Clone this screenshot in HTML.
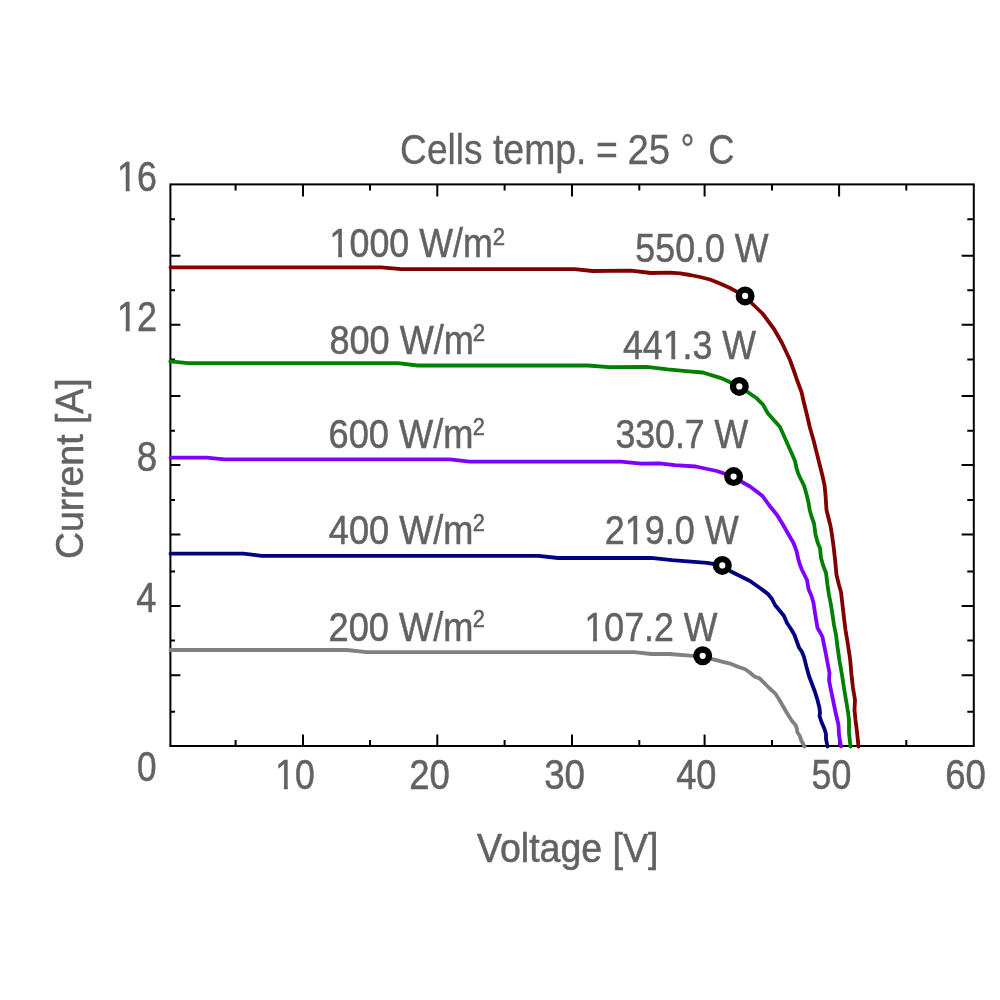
<!DOCTYPE html>
<html><head><meta charset="utf-8"><title>I-V curves</title>
<style>html,body{margin:0;padding:0;background:#fff;width:1000px;height:1000px;overflow:hidden}svg{display:block}</style>
</head><body>
<svg width="1000" height="1000" viewBox="0 0 1000 1000">
<rect width="1000" height="1000" fill="#fff"/>
<path d="M235.6,746.0V740.0M235.6,184.4V190.4M303.0,746.0V734.4M303.0,184.4V196.4M370.0,746.0V740.0M370.0,184.4V190.4M437.3,746.0V734.4M437.3,184.4V196.4M504.6,746.0V740.0M504.6,184.4V190.4M572.0,746.0V734.4M572.0,184.4V196.4M639.3,746.0V740.0M639.3,184.4V190.4M704.6,746.0V734.4M704.6,184.4V196.4M772.0,746.0V740.0M772.0,184.4V190.4M839.1,746.0V734.4M839.1,184.4V196.4M906.3,746.0V740.0M906.3,184.4V190.4M170.4,711.8H175.0M973.8,711.8H967.3M170.4,675.2H180.4M973.8,675.2H961.6M170.4,640.6H175.0M973.8,640.6H967.3M170.4,606.0H180.4M973.8,606.0H961.6M170.4,571.4H175.0M973.8,571.4H967.3M170.4,534.4H180.4M973.8,534.4H961.6M170.4,500.0H175.0M973.8,500.0H967.3M170.4,465.0H180.4M973.8,465.0H961.6M170.4,430.8H175.0M973.8,430.8H967.3M170.4,396.0H180.4M973.8,396.0H961.6M170.4,359.4H175.0M973.8,359.4H967.3M170.4,324.7H180.4M973.8,324.7H961.6M170.4,290.2H175.0M973.8,290.2H967.3M170.4,255.7H180.4M973.8,255.7H961.6M170.4,219.3H175.0M973.8,219.3H967.3" stroke="#000" stroke-width="2" fill="none"/>
<rect x="170.4" y="184.4" width="803.4" height="561.6" fill="none" stroke="#000" stroke-width="2"/>
<polyline points="170.5,267.4 381.0,267.4 401.4,269.2 574.5,269.2 592.5,271.0 631.0,270.7 651.0,273.0 670.0,272.6 680.0,273.4 690.0,275.0 700.0,277.0 710.0,279.5 720.0,283.5 730.0,288.0 738.0,292.3 745.1,295.9 751.5,303.0 762.5,313.5 774.0,329.0 782.0,343.0 790.0,360.0 795.0,374.0 797.0,380.0 801.5,392.0 804.0,403.0 807.0,415.0 810.0,428.0 813.5,440.0 816.5,452.0 819.5,464.0 822.5,476.0 824.5,485.0 825.5,495.0 826.5,510.0 828.5,518.0 830.5,526.0 832.0,535.0 833.5,546.0 835.0,559.0 836.5,575.0 839.0,585.0 841.0,592.0 842.5,605.0 844.0,618.0 845.5,630.0 847.5,642.0 849.5,655.0 850.2,660.0 851.5,675.0 853.0,688.0 855.0,700.0 854.5,710.0 855.5,720.0 857.0,732.0 858.5,746.5" fill="none" stroke="#800000" stroke-width="3.8" stroke-linejoin="round" stroke-linecap="round"/>
<polyline points="170.3,361.3 188.0,363.1 398.0,363.1 417.5,365.5 588.0,365.5 609.0,367.2 646.8,366.9 667.8,369.4 686.0,371.1 702.8,372.5 721.0,378.1 739.3,386.4 756.0,397.7 763.0,404.7 767.6,413.0 780.0,427.0 784.0,436.0 788.0,445.0 792.0,454.0 795.0,461.0 796.5,468.0 798.0,473.0 800.0,477.5 804.2,486.0 806.7,495.0 808.7,503.5 809.7,510.0 812.0,518.0 814.0,523.5 815.5,534.5 817.8,543.0 820.0,548.0 821.0,558.0 823.0,565.0 826.0,573.0 827.5,585.0 829.0,595.0 831.0,605.0 832.5,615.0 834.0,625.0 836.0,635.0 837.5,647.0 839.5,661.0 842.0,675.0 844.0,688.0 846.0,700.0 848.0,712.0 849.0,720.0 849.0,733.0 850.5,746.5" fill="none" stroke="#008000" stroke-width="3.8" stroke-linejoin="round" stroke-linecap="round"/>
<polyline points="170.5,457.7 206.5,457.7 224.5,459.4 450.0,459.4 469.5,461.6 621.0,461.6 641.2,463.6 659.4,463.3 674.8,465.1 695.8,466.5 716.8,471.0 733.6,476.6 742.0,482.0 750.0,486.5 756.0,491.0 762.5,496.0 769.0,505.0 777.0,515.0 782.0,523.0 786.0,530.0 790.0,537.0 793.5,543.0 796.5,551.0 798.3,559.0 800.0,565.0 802.0,570.0 804.0,574.0 807.0,580.0 808.5,589.0 811.5,596.0 813.5,603.0 815.0,613.0 816.5,622.0 817.5,628.0 820.5,633.0 822.5,637.0 824.0,645.0 825.5,652.0 827.0,660.0 829.5,673.0 829.0,680.0 830.5,688.0 833.0,700.0 835.5,712.0 838.5,725.0 839.0,735.0 841.0,746.5" fill="none" stroke="#7f00ff" stroke-width="3.8" stroke-linejoin="round" stroke-linecap="round"/>
<polyline points="170.5,553.7 243.5,553.7 261.5,555.8 538.5,555.8 558.0,558.0 651.0,557.9 672.0,560.1 707.0,562.9 722.3,565.4 730.0,571.0 740.0,576.0 750.0,581.0 760.0,588.0 768.0,594.0 772.0,599.0 775.0,605.0 780.0,611.0 784.0,616.0 787.0,623.0 791.0,629.0 794.5,635.0 797.0,642.0 799.0,647.5 802.0,652.0 804.0,657.0 806.5,667.0 809.0,676.0 812.0,684.0 815.0,692.0 817.5,700.0 819.5,708.0 820.0,713.0 819.5,716.0 821.5,722.0 824.5,729.0 826.0,734.0 826.0,739.0 827.5,746.5" fill="none" stroke="#000080" stroke-width="3.8" stroke-linejoin="round" stroke-linecap="round"/>
<polyline points="170.5,650.0 347.0,650.0 366.5,652.1 634.0,652.2 651.6,654.0 669.2,654.0 690.0,655.6 702.8,655.8 712.4,659.2 722.0,661.6 730.0,663.6 738.0,666.8 745.2,669.2 750.0,672.8 754.8,676.8 759.6,678.4 763.6,682.4 769.2,688.0 775.1,693.3 778.7,698.7 782.3,705.0 785.9,711.3 788.6,715.8 792.2,721.2 795.5,725.0 797.0,729.0 797.2,732.0 800.0,736.2 801.0,740.0 804.5,746.5" fill="none" stroke="#808080" stroke-width="3.8" stroke-linejoin="round" stroke-linecap="round"/>
<circle cx="745.1" cy="295.9" r="6.3" fill="#fff" stroke="#000" stroke-width="6.4"/>
<circle cx="739.3" cy="386.4" r="6.3" fill="#fff" stroke="#000" stroke-width="6.4"/>
<circle cx="733.6" cy="476.6" r="6.3" fill="#fff" stroke="#000" stroke-width="6.4"/>
<circle cx="722.3" cy="565.4" r="6.3" fill="#fff" stroke="#000" stroke-width="6.4"/>
<circle cx="702.7" cy="655.8" r="6.3" fill="#fff" stroke="#000" stroke-width="6.4"/>
<g font-family="'Liberation Sans', Arial, sans-serif" fill="#626262" stroke="#626262" stroke-width="0.55">
<text x="400.11" y="163.50" font-size="42.0" textLength="82.41" lengthAdjust="spacingAndGlyphs" stroke-width="0.3">Cells</text>
<text x="492.94" y="163.50" font-size="42.0" textLength="93.57" lengthAdjust="spacingAndGlyphs" stroke-width="0.3">temp.</text>
<text x="595.97" y="163.50" font-size="42.0" textLength="21.87" lengthAdjust="spacingAndGlyphs" stroke-width="0.3">=</text>
<text x="627.48" y="163.50" font-size="42.0" textLength="42.75" lengthAdjust="spacingAndGlyphs" stroke-width="0.3">25</text>
<text x="680.50" y="163.50" font-size="42.0" textLength="14.00" lengthAdjust="spacingAndGlyphs" stroke-width="0.3">°</text>
<text x="708.15" y="163.50" font-size="42.0" textLength="26.24" lengthAdjust="spacingAndGlyphs" stroke-width="0.3">C</text>
<text x="117.07" y="190.50" font-size="42.2" textLength="39.77" lengthAdjust="spacingAndGlyphs" clip-path="url(#c0)">16</text>
<text x="117.05" y="330.75" font-size="42.2" textLength="40.01" lengthAdjust="spacingAndGlyphs" clip-path="url(#c1)">12</text>
<text x="136.63" y="471.20" font-size="42.2" textLength="20.35" lengthAdjust="spacingAndGlyphs">8</text>
<text x="136.37" y="611.60" font-size="42.2" textLength="20.08" lengthAdjust="spacingAndGlyphs">4</text>
<text x="137.03" y="781.20" font-size="42.2" textLength="19.55" lengthAdjust="spacingAndGlyphs">0</text>
<text x="275.34" y="788.80" font-size="42.2" textLength="39.56" lengthAdjust="spacingAndGlyphs" clip-path="url(#c2)">10</text>
<text x="409.17" y="788.80" font-size="42.2" textLength="40.67" lengthAdjust="spacingAndGlyphs">20</text>
<text x="544.20" y="788.80" font-size="42.2" textLength="40.84" lengthAdjust="spacingAndGlyphs">30</text>
<text x="676.17" y="788.80" font-size="42.2" textLength="40.26" lengthAdjust="spacingAndGlyphs">40</text>
<text x="811.57" y="788.80" font-size="42.2" textLength="39.84" lengthAdjust="spacingAndGlyphs">50</text>
<text x="945.13" y="788.80" font-size="42.2" textLength="40.70" lengthAdjust="spacingAndGlyphs">60</text>
<text x="477.01" y="861.70" font-size="40.3" textLength="181.45" lengthAdjust="spacingAndGlyphs">Voltage [V]</text>
<text x="-1.91" y="0.00" font-size="39.1" textLength="180.76" lengthAdjust="spacingAndGlyphs" transform="translate(82.7,557.2) rotate(-90)">Current [A]</text>
<text x="329.56" y="257.00" font-size="41.0" textLength="163.21" lengthAdjust="spacingAndGlyphs" clip-path="url(#c3)">1000 W/m</text>
<text x="329.45" y="354.00" font-size="41.0" textLength="144.33" lengthAdjust="spacingAndGlyphs">800 W/m</text>
<text x="328.55" y="447.80" font-size="41.0" textLength="144.94" lengthAdjust="spacingAndGlyphs">600 W/m</text>
<text x="328.77" y="543.90" font-size="41.0" textLength="144.72" lengthAdjust="spacingAndGlyphs">400 W/m</text>
<text x="328.59" y="640.50" font-size="41.0" textLength="144.90" lengthAdjust="spacingAndGlyphs">200 W/m</text>
<text x="492.79" y="244.75" font-size="24.0" textLength="12.32" lengthAdjust="spacingAndGlyphs">2</text>
<text x="472.68" y="340.80" font-size="24.0" textLength="12.44" lengthAdjust="spacingAndGlyphs">2</text>
<text x="472.71" y="434.75" font-size="24.0" textLength="12.07" lengthAdjust="spacingAndGlyphs">2</text>
<text x="472.71" y="531.10" font-size="24.0" textLength="12.07" lengthAdjust="spacingAndGlyphs">2</text>
<text x="472.71" y="627.00" font-size="24.0" textLength="12.07" lengthAdjust="spacingAndGlyphs">2</text>
<text x="635.37" y="261.80" font-size="41.3" textLength="133.28" lengthAdjust="spacingAndGlyphs">550.0 W</text>
<text x="622.88" y="359.20" font-size="41.3" textLength="133.27" lengthAdjust="spacingAndGlyphs" clip-path="url(#c4)">441.3 W</text>
<text x="615.45" y="447.80" font-size="41.3" textLength="132.70" lengthAdjust="spacingAndGlyphs">330.7 W</text>
<text x="604.70" y="543.90" font-size="41.3" textLength="133.95" lengthAdjust="spacingAndGlyphs" clip-path="url(#c5)">219.0 W</text>
<text x="584.47" y="640.80" font-size="41.3" textLength="132.87" lengthAdjust="spacingAndGlyphs" clip-path="url(#c6)">107.2 W</text>
</g>
<defs><clipPath id="c0"><path clip-rule="evenodd" d="M107.07,135.64H166.83V211.60H107.07ZM118.28,186.21H125.69V192.50H118.28ZM129.57,186.21H136.69V192.50H129.57Z"/></clipPath><clipPath id="c1"><path clip-rule="evenodd" d="M107.05,275.89H167.06V351.85H107.05ZM118.28,326.46H125.73V332.75H118.28ZM129.63,326.46H136.78V332.75H129.63Z"/></clipPath><clipPath id="c2"><path clip-rule="evenodd" d="M265.34,733.94H324.90V809.90H265.34ZM276.54,784.51H283.91V790.80H276.54ZM287.78,784.51H294.87V790.80H287.78Z"/></clipPath><clipPath id="c3"><path clip-rule="evenodd" d="M319.56,203.70H502.77V277.50H319.56ZM330.78,252.80H338.20V259.00H330.78ZM342.09,252.80H349.22V259.00H342.09Z"/></clipPath><clipPath id="c4"><path clip-rule="evenodd" d="M612.88,305.51H766.15V379.85H612.88ZM663.90,354.98H671.31V361.20H663.90ZM675.20,354.98H682.33V361.20H675.20Z"/></clipPath><clipPath id="c5"><path clip-rule="evenodd" d="M594.70,490.21H748.65V564.55H594.70ZM625.94,539.68H633.38V545.90H625.94ZM637.28,539.68H644.44V545.90H637.28Z"/></clipPath><clipPath id="c6"><path clip-rule="evenodd" d="M574.47,587.11H727.35V661.45H574.47ZM585.69,636.58H593.08V642.80H585.69ZM596.96,636.58H604.06V642.80H596.96Z"/></clipPath></defs>
</svg>
</body></html>
